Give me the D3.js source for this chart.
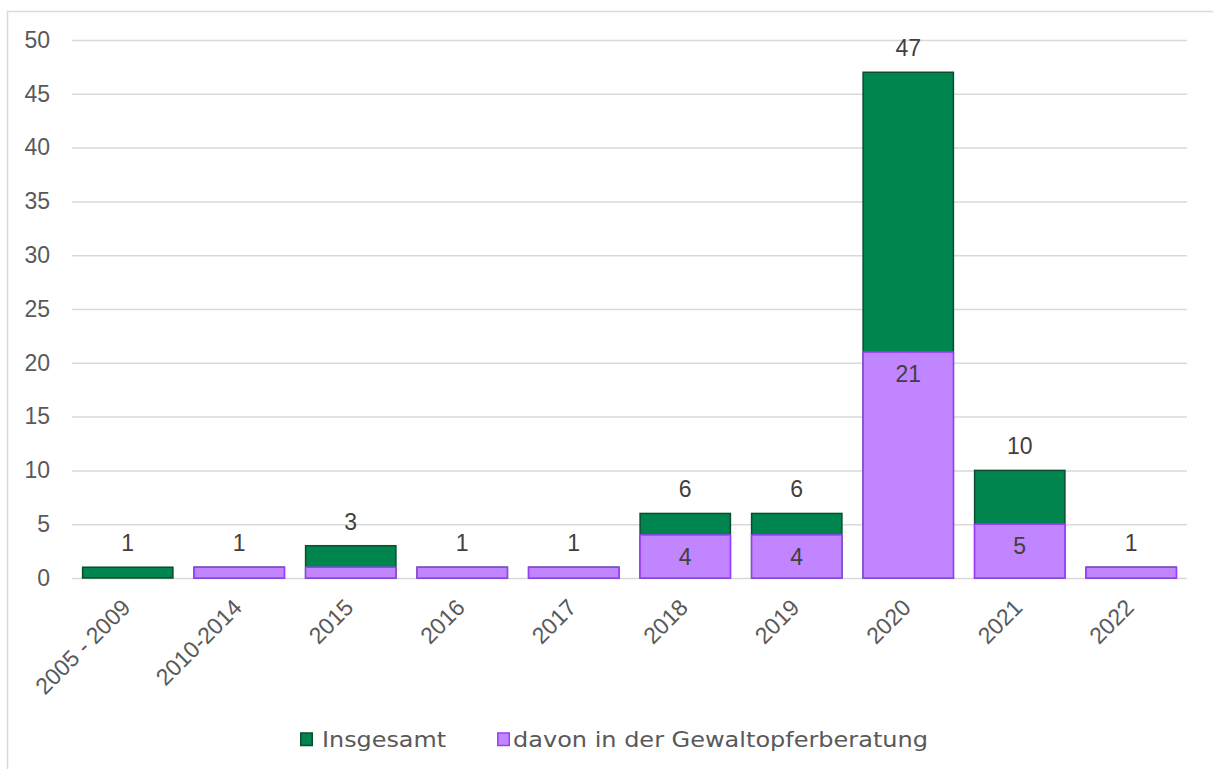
<!DOCTYPE html>
<html>
<head>
<meta charset="utf-8">
<script src="https://cdn.jsdelivr.net/npm/d3@7"></script>
<style>
  body { margin: 0; background: #fff; }
  text { font-family: "Liberation Sans", Arial, sans-serif; }
</style>
</head>
<body>
<div id="chart"></div>
<script>
// chart size
var w = 1213;
var h = 769;

// data
var categories = ["2005 - 2009", "2010-2014", "2015", "2016", "2017", "2018", "2019", "2020", "2021", "2022"];
var insgesamt  = [1, 1, 3, 1, 1, 6, 6, 47, 10, 1];
var davon      = [0, 1, 1, 1, 1, 4, 4, 21, 5, 1];
var yTicks     = [0, 5, 10, 15, 20, 25, 30, 35, 40, 45, 50];
var seriesNames = ["Insgesamt", "davon in der Gewaltopferberatung"];

var green = "#00854f", greenLine = "#0b4d2e";
var purple = "#c185ff", purpleLine = "#9a3cff";

var plot = {left: 72, right: 1187, top: 40, bottom: 578};
var fs = "23px";

var svg = d3.select("#chart").append("svg")
    .attr("width", w)
    .attr("height", h);

// outer frame
svg.append("rect")
    .attr("x", 7.5).attr("y", 11.5)
    .attr("width", w + 20).attr("height", h + 20)
    .attr("fill", "none")
    .attr("stroke", "#d9d9d9")
    .attr("stroke-width", 1.5);

var xScale = d3.scaleBand()
    .domain(categories)
    .range([plot.left, plot.right])
    .paddingInner(0.19)
    .paddingOuter(0.095);

var yScale = d3.scaleLinear()
    .domain([0, 50])
    .range([plot.bottom, plot.top]);

// gridlines + y labels
var yAxis = d3.axisLeft(yScale)
    .tickValues(yTicks)
    .tickSize(-(plot.right - plot.left))
    .tickPadding(22);

var gy = svg.append("g")
    .attr("transform", "translate(" + plot.left + ",0)")
    .call(yAxis);
gy.select(".domain").remove();
gy.selectAll(".tick line").attr("stroke", "#d9d9d9").attr("stroke-width", 1.5);
gy.selectAll(".tick text")
    .attr("fill", "#595959")
    .style("font-size", fs);

var rows = categories.map(function(c, i) {
    return {cat: c, total: insgesamt[i], part: davon[i]};
});

// total bars (green)
svg.selectAll("rect.total")
    .data(rows)
    .enter()
    .append("rect")
    .attr("class", "total")
    .attr("x", function(d) { return xScale(d.cat); })
    .attr("y", function(d) { return yScale(d.total); })
    .attr("width", xScale.bandwidth())
    .attr("height", function(d) { return yScale(0) - yScale(d.total); })
    .attr("fill", green)
    .attr("stroke", greenLine)
    .attr("stroke-width", 1.5);

// part bars (purple) drawn over the totals
svg.selectAll("rect.part")
    .data(rows.filter(function(d) { return d.part > 0; }))
    .enter()
    .append("rect")
    .attr("class", "part")
    .attr("x", function(d) { return xScale(d.cat); })
    .attr("y", function(d) { return yScale(d.part); })
    .attr("width", xScale.bandwidth())
    .attr("height", function(d) { return yScale(0) - yScale(d.part); })
    .attr("fill", purple)
    .attr("stroke", purpleLine)
    .attr("stroke-width", 1.5);

// labels above totals
svg.selectAll("text.totlabel")
    .data(rows)
    .enter()
    .append("text")
    .attr("class", "totlabel")
    .attr("x", function(d) { return xScale(d.cat) + xScale.bandwidth() / 2; })
    .attr("y", function(d) { return yScale(d.total) - 16; })
    .attr("text-anchor", "middle")
    .attr("fill", "#404040")
    .style("font-size", fs)
    .text(function(d) { return d.total; });

// labels inside purple part (only where it fits)
svg.selectAll("text.partlabel")
    .data(rows.filter(function(d) { return d.part >= 2 && d.part < d.total; }))
    .enter()
    .append("text")
    .attr("class", "partlabel")
    .attr("x", function(d) { return xScale(d.cat) + xScale.bandwidth() / 2; })
    .attr("y", function(d) { return yScale(d.part) + 30; })
    .attr("text-anchor", "middle")
    .attr("fill", "#404040")
    .style("font-size", fs)
    .text(function(d) { return d.part; });

// x labels, rotated
svg.selectAll("text.xlab")
    .data(categories)
    .enter()
    .append("text")
    .attr("class", "xlab")
    .attr("transform", function(d) {
        return "translate(" + (xScale(d) + xScale.bandwidth() / 2 + 4) + "," + (plot.bottom + 31) + ") rotate(-45)";
    })
    .attr("text-anchor", "end")
    .attr("fill", "#595959")
    .style("font-size", fs)
    .text(function(d) { return d; });

// legend
var legend = svg.append("g").attr("transform", "translate(0,740)");
var legX = [300, 497];
var legW = [124, 415];
var legFill = [green, purple];
var legLine = [greenLine, purpleLine];
seriesNames.forEach(function(name, i) {
    legend.append("rect")
        .attr("x", legX[i] + 0.75).attr("y", -7)
        .attr("width", 11.5).attr("height", 12.5)
        .attr("fill", legFill[i])
        .attr("stroke", legLine[i])
        .attr("stroke-width", 1.5);
    legend.append("text")
        .attr("x", legX[i] + (i === 0 ? 22 : 16))
        .attr("y", 7)
        .attr("fill", "#595959")
        .attr("textLength", legW[i])
        .attr("lengthAdjust", "spacingAndGlyphs")
        .style("font-family", "'DejaVu Sans Condensed', 'DejaVu Sans', sans-serif")
        .style("font-size", "21px")
        .text(name);
});
</script>
</body>
</html>
